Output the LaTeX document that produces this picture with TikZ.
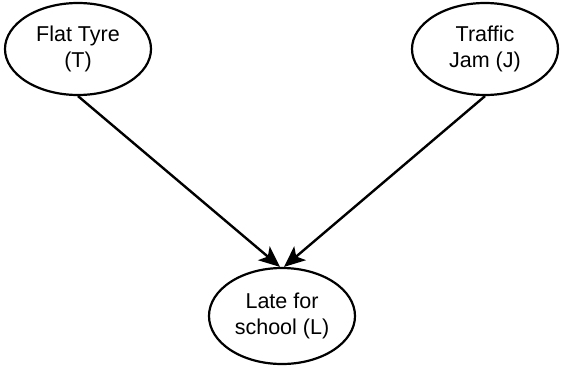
\documentclass[tikz,border=0pt]{standalone}
\usepackage{fontspec}
\setmainfont{Liberation Sans}
\usetikzlibrary{shapes.geometric,arrows.meta}
\begin{document}
\begin{tikzpicture}[
  x=1pt, y=-1pt,
  every node/.style={font=\fontsize{21.5}{26}\selectfont, align=center},
  varnode/.style={draw, ellipse, line width=2.2pt, minimum width=146pt, minimum height=92pt, inner sep=0pt},
  causeedge/.style={draw, line width=2.4pt, -{Stealth[length=21pt, width=18pt, inset=5pt]}}
]
\useasboundingbox (0,0) rectangle (561,367);

% Causes
\node[varnode] (T) at (78,49) {Flat Tyre\\(T)};
\node[varnode] (J) at (485,49) {Traffic\\Jam (J)};

% Effect
\node[varnode, minimum height=96pt] (L) at (282,316) {Late for\\school (L)};

\draw[causeedge] (T.south) -- ([xshift=-2pt]L.north);
\draw[causeedge] (J.south) -- ([xshift=2pt]L.north);

\end{tikzpicture}
\end{document}
